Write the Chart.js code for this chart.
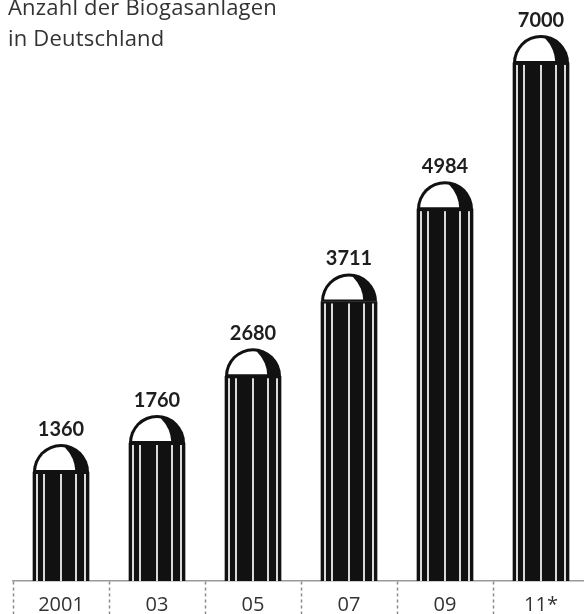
<!DOCTYPE html>
<html><head><meta charset="utf-8">
<script src="https://cdn.jsdelivr.net/npm/chart.js@4.4.1/dist/chart.umd.min.js"></script>
<style>
html,body{margin:0;padding:0;background:#fff;overflow:hidden;width:584px;height:614px;}
#wrap{position:relative;width:584px;height:614px;overflow:hidden;}
#title{position:absolute;left:8px;top:-9px;font-family:"Open Sans",sans-serif;font-size:22px;line-height:31px;color:#333;white-space:nowrap;letter-spacing:0.2px;}
canvas{position:absolute;left:0;top:0;}
</style></head><body>
<div id="wrap"><canvas id="c" width="600" height="614"></canvas>
<div id="title">Anzahl der Biogasanlagen<br>in Deutschland</div></div>
<script>
const categories = ['2001', '03', '05', '07', '09', '11*'];
const values = [1360, 1760, 2680, 3711, 4984, 7000];
const yMin = -143;
const yMax = 7868;

const stripeFractions = [0.065, 0.2, 0.5, 0.76, 0.925];

const siloPlugin = {
  id: 'silo',
  afterDatasetsDraw(chart) {
    const ctx = chart.ctx;
    const meta = chart.getDatasetMeta(0);
    meta.data.forEach((bar, i) => {
      const p = bar.getProps(['x', 'y', 'width', 'base'], true);
      const x = p.x, y = p.y, width = p.width, base = p.base;
      const left = x - width / 2, r = width / 2;
      ctx.save();
      ctx.fillStyle = '#d9d9d9';
      stripeFractions.forEach(f => {
        ctx.fillRect(Math.round(left + f * width - 1), y + 2, 2, base - y - 2);
      });
      ctx.beginPath();
      ctx.arc(x, y, r, Math.PI, 2 * Math.PI);
      ctx.closePath();
      ctx.fillStyle = '#111';
      ctx.fill();
      ctx.save();
      ctx.beginPath();
      ctx.arc(x, y, r - 3, Math.PI, 2 * Math.PI);
      ctx.closePath();
      ctx.clip();
      ctx.beginPath();
      ctx.rect(left, y - r, width, r - 2);
      ctx.clip();
      ctx.beginPath();
      ctx.arc(x - 0.72 * r, y, 1.23 * r, 0, 2 * Math.PI);
      ctx.fillStyle = '#fff';
      ctx.fill();
      ctx.restore();
      ctx.font = 'bold 20px Lato';
      ctx.textAlign = 'center';
      ctx.textBaseline = 'alphabetic';
      ctx.fillStyle = '#1e1e1e';
      ctx.fillText(String(values[i]), x, y - r - 8);
      ctx.restore();
    });
  }
};

new Chart(document.getElementById('c'), {
  type: 'bar',
  data: {
    labels: categories,
    datasets: [{
      data: values,
      base: yMin,
      backgroundColor: '#111',
      borderWidth: 0,
      barThickness: 56
    }]
  },
  options: {
    responsive: false,
    devicePixelRatio: 1,
    animation: false,
    layout: { padding: { left: 13, right: 11, top: 0, bottom: 0 } },
    plugins: { legend: { display: false }, tooltip: { enabled: false }, title: { display: false } },
    scales: {
      y: { display: false, min: yMin, max: yMax },
      x: {
        position: 'bottom',
        offset: true,
        grid: {
          display: true,
          offset: true,
          drawOnChartArea: false,
          drawTicks: true,
          tickLength: 33,
          tickColor: '#8a8a8a',
          tickWidth: 1.5,
          tickBorderDash: [3, 3]
        },
        border: { display: true, color: '#9a9a9a', width: 1.5 },
        ticks: {
          color: '#333',
          font: { family: 'Open Sans', size: 20 },
          padding: -21,
          maxRotation: 0,
          autoSkip: false
        },
        afterFit: (scale) => { scale.height = 33; }
      }
    }
  },
  plugins: [siloPlugin]
});
</script>
</body></html>
